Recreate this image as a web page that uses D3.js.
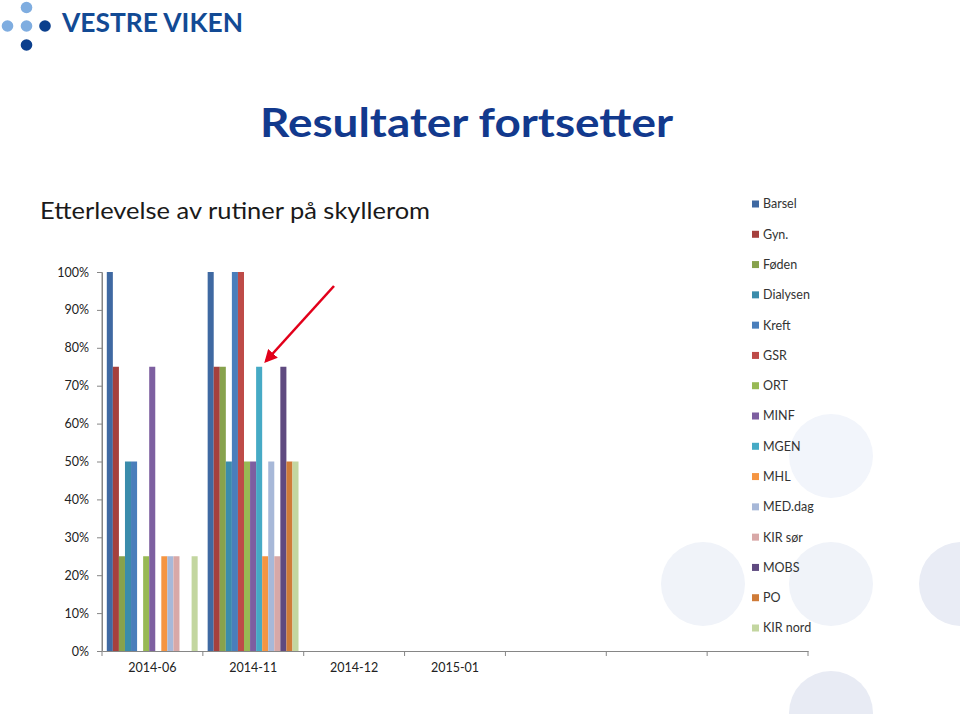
<!DOCTYPE html>
<html>
<head>
<meta charset="utf-8">
<script src="https://cdn.jsdelivr.net/npm/d3@7"></script>
<style>
  html, body { margin: 0; padding: 0; background: #fff; }
  svg { display: block; }
  text { font-family: Lato, "Open Sans", sans-serif; }
</style>
</head>
<body>
<svg id="chart" width="960" height="714"></svg>
<script>
// ---- data ----
const categories = ["2014-06", "2014-11", "2014-12", "2015-01", "", "", ""];
const seriesNames = ["Barsel", "Gyn.", "Føden", "Dialysen", "Kreft", "GSR", "ORT", "MINF",
                     "MGEN", "MHL", "MED.dag", "KIR sør", "MOBS", "PO", "KIR nord"];
const seriesColors = ["#3F69A2", "#A5403D", "#87A24C", "#3A8CAB", "#4A7EBB", "#BE4B48", "#98B954",
                      "#7D5FA0", "#46AAC5", "#F59542", "#A7B8D8", "#D8A8A7", "#5F4A80", "#CF7B38", "#C3D6A0"];
// values per series, one entry per category (null = no data)
const valBarsel   = [1.00, 1.00, null, null, null, null, null];
const valGyn      = [0.75, 0.75, null, null, null, null, null];
const valFoden    = [0.25, 0.75, null, null, null, null, null];
const valDialysen = [0.50, 0.50, null, null, null, null, null];
const valKreft    = [0.50, 1.00, null, null, null, null, null];
const valGSR      = [0.00, 1.00, null, null, null, null, null];
const valORT      = [0.25, 0.50, null, null, null, null, null];
const valMINF     = [0.75, 0.50, null, null, null, null, null];
const valMGEN     = [0.00, 0.75, null, null, null, null, null];
const valMHL      = [0.25, 0.25, null, null, null, null, null];
const valMEDdag   = [0.25, 0.50, null, null, null, null, null];
const valKIRsor   = [0.25, 0.25, null, null, null, null, null];
const valMOBS     = [0.00, 0.75, null, null, null, null, null];
const valPO       = [0.00, 0.50, null, null, null, null, null];
const valKIRnord  = [0.25, 0.50, null, null, null, null, null];
const seriesValues = [valBarsel, valGyn, valFoden, valDialysen, valKreft, valGSR, valORT, valMINF,
                      valMGEN, valMHL, valMEDdag, valKIRsor, valMOBS, valPO, valKIRnord];
const yTicks = [0, 0.1, 0.2, 0.3, 0.4, 0.5, 0.6, 0.7, 0.8, 0.9, 1.0];

const svg = d3.select("#chart");

// ---- background decorative circles ----
const bgCircles = [
  {cx: 831, cy: 456, fill: "#F2F5FB"},
  {cx: 703, cy: 584, fill: "#F0F3F9"},
  {cx: 831, cy: 584, fill: "#F0F3F9"},
  {cx: 961, cy: 584, fill: "#E9ECF5"},
  {cx: 831, cy: 713, fill: "#E8EBF4"}
];
svg.append("g").selectAll("circle").data(bgCircles).join("circle")
  .attr("cx", d => d.cx).attr("cy", d => d.cy).attr("r", 42).attr("fill", d => d.fill);

// ---- logo ----
const logo = svg.append("g");
const logoDots = [
  {x: 26.5, y: 7.5, c: "#7FADE0"},
  {x: 7.5, y: 26, c: "#7FADE0"},
  {x: 26.5, y: 26, c: "#7FADE0"},
  {x: 45, y: 26, c: "#0B3F8D"},
  {x: 26.5, y: 45, c: "#0B3F8D"}
];
logo.selectAll("circle").data(logoDots).join("circle")
  .attr("cx", d => d.x).attr("cy", d => d.y).attr("r", 5.8).attr("fill", d => d.c);
logo.append("text").attr("x", 62).attr("y", 32)
  .attr("font-size", 27).attr("font-weight", 700).attr("fill", "#124A94")
  .attr("textLength", 181).attr("lengthAdjust", "spacingAndGlyphs")
  .text("VESTRE VIKEN");

// ---- titles ----
svg.append("text").attr("x", 260).attr("y", 137)
  .attr("font-size", 40).attr("font-weight", 700).attr("fill", "#12398D")
  .attr("textLength", 413).attr("lengthAdjust", "spacingAndGlyphs")
  .text("Resultater fortsetter");
svg.append("text").attr("x", 40).attr("y", 219)
  .attr("font-size", 24).attr("fill", "#1a1a1a")
  .attr("textLength", 390).attr("lengthAdjust", "spacingAndGlyphs")
  .text("Etterlevelse av rutiner på skyllerom");

// ---- scales ----
const x0 = d3.scaleBand().domain(d3.range(categories.length)).range([102, 808]).paddingInner(0).paddingOuter(0);
const x1 = d3.scaleBand().domain(d3.range(seriesNames.length)).range([4.8, x0.bandwidth() - 5.2]).padding(0);
const y = d3.scaleLinear().domain([0, 1]).range([651, 272]);

// ---- axes ----
const yAxis = d3.axisLeft(y).tickValues(yTicks).tickFormat(d3.format(".0%")).tickSize(5).tickSizeOuter(0);
const gy = svg.append("g").attr("transform", "translate(102,0)").call(yAxis);
gy.select(".domain").attr("stroke", "#868686");
gy.selectAll(".tick line").attr("stroke", "#868686");
gy.selectAll(".tick text").attr("x", -13).attr("font-size", 12.5).attr("fill", "#222")
  .attr("font-family", "Lato, 'Open Sans', sans-serif");

const xAxis = d3.axisBottom(x0).tickFormat(i => categories[i]).tickSize(0).tickSizeOuter(0);
const gx = svg.append("g").attr("transform", "translate(0,651)").call(xAxis);
gx.select(".domain").attr("stroke", "#868686");
gx.selectAll(".tick text").attr("y", 12).attr("font-size", 12.5).attr("fill", "#222")
  .attr("font-family", "Lato, 'Open Sans', sans-serif");
// category boundary ticks
const boundaries = d3.range(categories.length + 1).map(i => i < categories.length ? x0(i) : x0.range()[1]);
svg.append("g").selectAll("line").data(boundaries).join("line")
  .attr("x1", d => d).attr("x2", d => d).attr("y1", 651).attr("y2", 656)
  .attr("stroke", "#868686");

// ---- bars ----
const barG = svg.append("g");
seriesValues.forEach((vals, s) => {
  barG.append("g").selectAll("rect")
    .data(vals.map((v, c) => ({v, c})).filter(d => d.v !== null && d.v > 0))
    .join("rect")
    .attr("x", d => x0(d.c) + x1(s))
    .attr("width", x1.bandwidth())
    .attr("y", d => y(d.v))
    .attr("height", d => y(0) - y(d.v))
    .attr("fill", seriesColors[s]);
});
// redraw y axis domain on top so it stays visible
svg.append("line").attr("x1", 102).attr("x2", 102).attr("y1", 272).attr("y2", 651).attr("stroke", "#868686");

// ---- legend ----
const legend = svg.append("g");
const legendY = d3.scalePoint().domain(seriesNames).range([204, 628]);
const li = legend.selectAll("g").data(seriesNames).join("g")
  .attr("transform", d => `translate(752,${legendY(d)})`);
li.append("rect").attr("x", 0).attr("y", -3.5).attr("width", 7).attr("height", 7)
  .attr("fill", (d, i) => seriesColors[i]);
li.append("text").attr("x", 11).attr("y", 0).attr("dy", "0.35em")
  .attr("font-size", 12.5).attr("fill", "#333").text(d => d);

// ---- annotation arrow ----
const defs = svg.append("defs");
defs.append("marker").attr("id", "arrowhead").attr("viewBox", "0 0 10 10")
  .attr("refX", 8).attr("refY", 5).attr("markerWidth", 5).attr("markerHeight", 5)
  .attr("orient", "auto")
  .append("path").attr("d", "M0,0 L10,5 L0,10 Z").attr("fill", "#E2001A");
svg.append("line").attr("x1", 334).attr("y1", 286).attr("x2", 266).attr("y2", 361)
  .attr("stroke", "#E2001A").attr("stroke-width", 2.6).attr("marker-end", "url(#arrowhead)");
</script>
</body>
</html>
